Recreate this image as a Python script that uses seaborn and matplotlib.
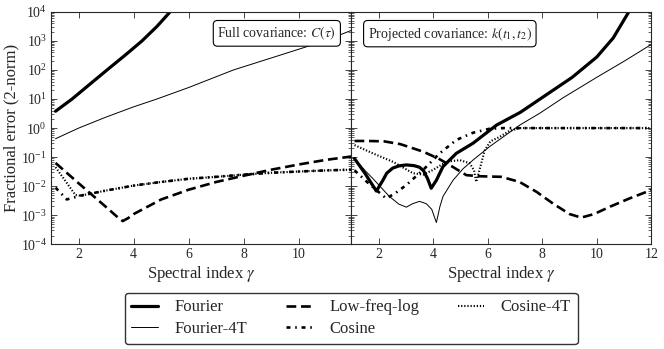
import seaborn as sns
import matplotlib.pyplot as plt
import pandas as pd

# ---- data ----
# left panel: full covariance C(tau)
L_fourier_g = [1.16, 1.76, 2.4, 3.03, 3.7, 4.3, 4.85, 5.32, 5.5]
L_fourier_v = [3.8, 10, 32, 100, 330, 1000, 3200, 1.0e4, 1.6e4]

L_fourier4t_g = [1.16, 2.0, 3.0, 4.0, 4.84, 6.0, 7.62, 9.3, 10.94, 11.9]
L_fourier4t_v = [0.43, 1.0, 2.4, 5.4, 10, 25, 100, 320, 1000, 2300]

L_lowfreq_g = [1.16, 2.0, 3.0, 3.45, 3.6, 3.8, 4.0, 5.0, 6.0, 7.0, 8.0, 9.0, 10.0, 11.0, 11.9]
L_lowfreq_v = [0.063, 0.0126, 0.0019, 8e-4, 6.3e-4, 8e-4, 1.1e-3, 3.5e-3, 7.6e-3,
               0.014, 0.023, 0.037, 0.056, 0.081, 0.105]

L_cosine_g = [1.16, 1.57, 2.06, 3.0, 4.0, 5.0, 6.0, 7.0, 8.0, 9.0, 10.0, 11.0, 11.9]
L_cosine_v = [0.0089, 0.0035, 0.0047, 0.0071, 0.0105, 0.014, 0.018, 0.021, 0.025,
              0.029, 0.032, 0.035, 0.037]

L_cosine4t_g = [1.16, 1.5, 1.88, 2.06, 3.0, 4.0, 5.0, 6.0, 7.0, 8.0, 9.0, 10.0, 11.0, 11.9]
L_cosine4t_v = [0.045, 0.016, 0.005, 0.0047, 0.0071, 0.0105, 0.014, 0.018, 0.021,
                0.025, 0.029, 0.032, 0.035, 0.037]

# right panel: projected covariance k(t1, t2)
R_fourier_g = [1.12, 1.5, 1.92, 2.16, 2.3, 2.52, 2.75, 3.02, 3.3, 3.5, 3.65, 3.8, 3.93,
               4.12, 4.36, 4.85, 5.46, 6.32, 7.2, 8.15, 9.1, 10.0, 10.6, 11.14, 11.3]
R_fourier_v = [0.089, 0.028, 0.0068, 0.016, 0.028, 0.042, 0.05, 0.054, 0.051, 0.045,
               0.034, 0.018, 0.0085, 0.016, 0.047, 0.135, 0.30, 1.26, 3.5, 14, 56,
               280, 1260, 8900, 16000]

R_fourier4t_g = [1.12, 1.5, 1.8, 2.1, 2.4, 2.75, 3.02, 3.25, 3.5, 3.75, 3.95, 4.12,
                 4.25, 4.36, 4.73, 5.1, 5.46, 6.07, 7.17, 7.9, 8.76, 10.0, 11.0, 12.0]
R_fourier4t_v = [0.089, 0.035, 0.018, 0.0089, 0.0044, 0.0024, 0.0019, 0.0025, 0.003,
                 0.0025, 0.0016, 5.6e-4, 0.002, 0.0044, 0.016, 0.04, 0.079, 0.23,
                 1.26, 3.2, 11, 56, 200, 760]

R_lowfreq_g = [1.12, 1.6, 2.2, 2.8, 3.63, 4.2, 4.6, 5.0, 5.22, 5.7, 6.5, 7.17, 7.8,
               8.4, 9.0, 9.43, 9.9, 10.5, 11.2, 12.0]
R_lowfreq_v = [0.36, 0.36, 0.35, 0.28, 0.155, 0.089, 0.054, 0.032, 0.024, 0.022,
               0.021, 0.014, 0.0063, 0.0025, 0.0011, 8.3e-4, 0.0011, 0.002,
               0.0038, 0.0074]

R_cosine_g = [1.12, 1.7, 2.28, 2.6, 3.02, 3.63, 4.24, 4.85, 5.46, 6.07, 6.6, 12.0]
R_cosine_v = [0.035, 0.011, 0.0038, 0.0056, 0.011, 0.036, 0.135, 0.39, 0.69, 0.95,
              1.0, 1.0]

R_cosine4t_g = [1.12, 1.79, 2.53, 3.26, 3.63, 3.99, 4.48, 4.97, 5.34, 5.5, 5.58, 5.7,
                5.89, 6.1, 6.44, 6.8, 7.17, 12.0]
R_cosine4t_v = [0.26, 0.135, 0.069, 0.028, 0.025, 0.036, 0.069, 0.079, 0.062, 0.035,
                0.014, 0.036, 0.17, 0.35, 0.5, 0.8, 1.0, 1.0]

labels = ['Fourier', 'Fourier-4T', 'Low-freq-log', 'Cosine', 'Cosine-4T']
styles = {
    'Fourier': dict(lw=2.3, ls='-'),
    'Fourier-4T': dict(lw=0.7, ls='-'),
    'Low-freq-log': dict(lw=1.9, dashes=(3.7, 1.8)),
    'Cosine': dict(lw=1.9, dashes=(1.5, 1.8, 0.6, 1.8)),
    'Cosine-4T': dict(lw=1.5, dashes=(0.6, 0.9)),
}

left = {'Fourier': (L_fourier_g, L_fourier_v),
        'Fourier-4T': (L_fourier4t_g, L_fourier4t_v),
        'Low-freq-log': (L_lowfreq_g, L_lowfreq_v),
        'Cosine': (L_cosine_g, L_cosine_v),
        'Cosine-4T': (L_cosine4t_g, L_cosine4t_v)}
right = {'Fourier': (R_fourier_g, R_fourier_v),
         'Fourier-4T': (R_fourier4t_g, R_fourier4t_v),
         'Low-freq-log': (R_lowfreq_g, R_lowfreq_v),
         'Cosine': (R_cosine_g, R_cosine_v),
         'Cosine-4T': (R_cosine4t_g, R_cosine4t_v)}

sns.set_style("ticks")
plt.rcParams["font.family"] = "serif"
plt.rcParams["font.serif"] = ["Liberation Serif", "DejaVu Serif"]
plt.rcParams["mathtext.fontset"] = "stix"
plt.rcParams.update({'xtick.direction': 'in', 'ytick.direction': 'in',
                     'xtick.top': True, 'ytick.right': True,
                     'xtick.labelsize': 10, 'ytick.labelsize': 10,
                     'axes.labelsize': 12, 'legend.fontsize': 12,
                     'axes.linewidth': 0.8})

fig, axes = plt.subplots(1, 2, sharey=True, figsize=(6.64, 3.49), dpi=100)
fig.subplots_adjust(left=0.077, right=0.981, top=0.966, bottom=0.30, wspace=0)

for ax, panel in zip(axes, [left, right]):
    for name in labels:
        g, v = panel[name]
        df = pd.DataFrame({'gamma': g, 'err': v})
        sns.lineplot(data=df, x='gamma', y='err', ax=ax, color='black',
                     label=name, legend=False, lw=styles[name]['lw'])
        ln = ax.lines[-1]
        if 'dashes' in styles[name]:
            ln.set_dashes(styles[name]['dashes'])
    ax.set_yscale('log')
    ax.set_xlabel(r'Spectral index $\gamma$', labelpad=2)
    ax.tick_params(which='major', length=4, width=0.6, pad=3)
    ax.tick_params(which='minor', length=2, width=0.5)

axes[0].set_xlim(1, 11.9)
axes[1].set_xlim(1, 12)
axes[0].set_ylim(1e-4, 1e4)
axes[0].set_xticks([2, 4, 6, 8, 10])
axes[1].set_xticks([2, 4, 6, 8, 10, 12])
axes[0].set_ylabel('Fractional error (2-norm)', labelpad=1)
axes[1].tick_params(labelleft=False)

box = dict(boxstyle='round,pad=0.3', fc='white', ec='black', lw=0.8)
axes[0].text(0.95, 0.945, r'Full covariance: $C(\tau)$', transform=axes[0].transAxes,
             ha='right', va='top', fontsize=10, bbox=box)
axes[1].text(0.055, 0.945, r'Projected covariance: $k(t_1,t_2)$',
             transform=axes[1].transAxes, ha='left', va='top', fontsize=10, bbox=box)

handles = axes[0].lines[:5]
fig.legend(handles, labels, loc='upper center', bbox_to_anchor=(0.529, 0.161), ncol=3,
           fancybox=True, frameon=True, edgecolor='black', handlelength=1.6,
           handletextpad=1.0, columnspacing=2.3, borderpad=0.4, labelspacing=0.35,
           borderaxespad=0)

fig.savefig('out.png', dpi=100)
